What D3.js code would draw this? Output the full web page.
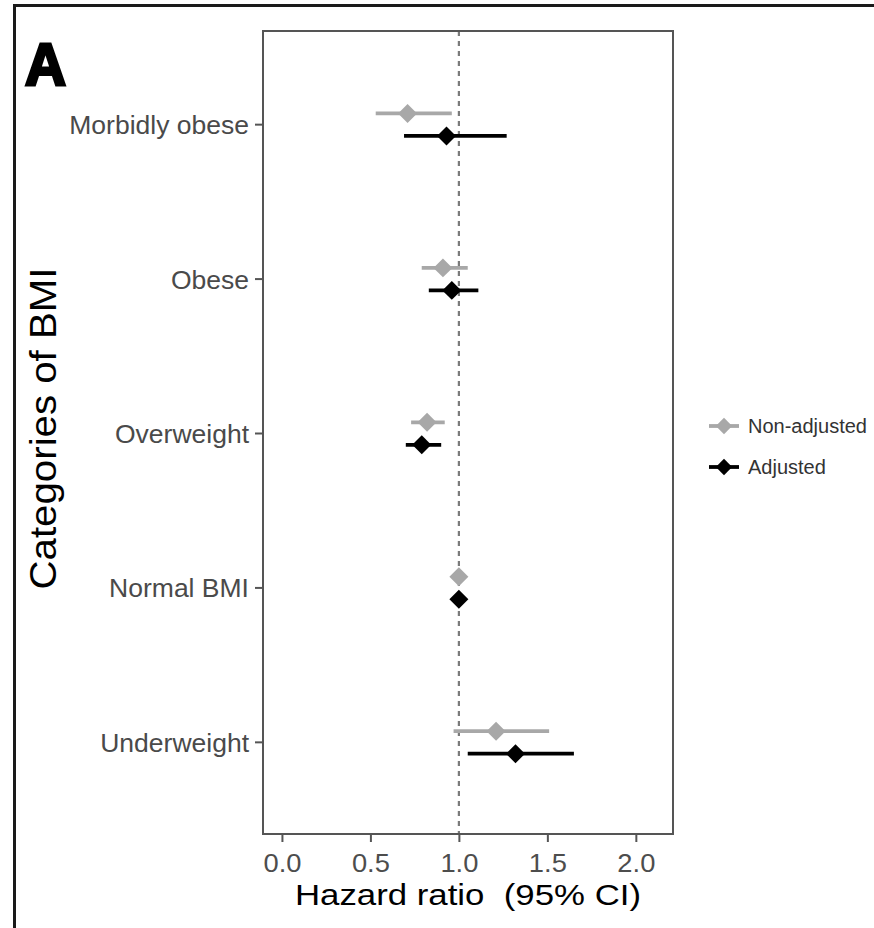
<!DOCTYPE html>
<html>
<head>
<meta charset="utf-8">
<script src="https://cdn.jsdelivr.net/npm/d3@7"></script>
<style>
  html, body { margin: 0; padding: 0; background: #fff; }
  svg { display: block; }
  text { font-family: "Liberation Sans", Arial, Helvetica, sans-serif; white-space: pre; }
</style>
</head>
<body>
<svg id="chart" width="874" height="928"></svg>
<script>
// ---- data ----
const categories = ["Morbidly obese", "Obese", "Overweight", "Normal BMI", "Underweight"];
const series = ["Non-adjusted", "Adjusted"];
const nonAdjHR   = [0.71, 0.91, 0.82, 1.00, 1.21];
const nonAdjLow  = [0.53, 0.79, 0.73, 1.00, 0.97];
const nonAdjHigh = [0.96, 1.05, 0.92, 1.00, 1.51];
const adjHR      = [0.93, 0.96, 0.79, 1.00, 1.32];
const adjLow     = [0.69, 0.83, 0.70, 1.00, 1.05];
const adjHigh    = [1.27, 1.11, 0.90, 1.00, 1.65];
const xTicks = [0.0, 0.5, 1.0, 1.5, 2.0];
const refValue = 1.0;
const panelLabel = "A";
const xTitle = "Hazard ratio  (95% CI)";
const yTitle = "Categories of BMI";

// ---- layout ----
const svg = d3.select("#chart");
const P = { left: 263, right: 673, top: 31, bottom: 834 };
const colors = { "Non-adjusted": "#a8a8a8", "Adjusted": "#000000" };
const dodge = { "Non-adjusted": -11, "Adjusted": 11.5 };

const x = d3.scaleLinear().domain([-0.107, 2.21]).range([P.left, P.right]);
const y = d3.scalePoint().domain(categories).range([P.top, P.bottom]).padding(0.6);

const rows = [];
categories.forEach((c, i) => {
  rows.push({ cat: c, s: "Non-adjusted", hr: nonAdjHR[i], lo: nonAdjLow[i], hi: nonAdjHigh[i] });
  rows.push({ cat: c, s: "Adjusted", hr: adjHR[i], lo: adjLow[i], hi: adjHigh[i] });
});

// outer frame
svg.append("rect").attr("x", 14.5).attr("y", 5.5).attr("width", 900).attr("height", 960)
  .attr("fill", "none").attr("stroke", "#1a1a1a").attr("stroke-width", 3);

// panel label
svg.append("text").attr("x", 25).attr("y", 85).attr("font-size", 60).attr("font-weight", 900)
  .attr("fill", "#000").attr("stroke", "#000").attr("stroke-width", 3)
  .attr("textLength", 41).attr("lengthAdjust", "spacingAndGlyphs").text(panelLabel);

// reference line
svg.append("line").attr("x1", x(refValue)).attr("x2", x(refValue))
  .attr("y1", P.top).attr("y2", P.bottom)
  .attr("stroke", "#7a7a7a").attr("stroke-width", 2.2).attr("stroke-dasharray", "5,5");

// error bars & points
const g = svg.append("g");
g.selectAll("line.ci").data(rows).join("line").attr("class", "ci")
  .attr("x1", d => x(d.lo)).attr("x2", d => x(d.hi))
  .attr("y1", d => y(d.cat) + 0.8 + dodge[d.s]).attr("y2", d => y(d.cat) + 0.8 + dodge[d.s])
  .attr("stroke", d => colors[d.s]).attr("stroke-width", 3.8);

const diamond = d3.symbol().type(d3.symbolDiamond2).size(230);
g.selectAll("path.pt").data(rows).join("path").attr("class", "pt")
  .attr("d", diamond)
  .attr("transform", d => `translate(${x(d.hr)},${y(d.cat) + 0.8 + dodge[d.s]})`)
  .attr("fill", d => colors[d.s]);

// panel border
svg.append("rect").attr("x", P.left).attr("y", P.top)
  .attr("width", P.right - P.left).attr("height", P.bottom - P.top)
  .attr("fill", "none").attr("stroke", "#555").attr("stroke-width", 2);

// x axis
const xAxis = svg.append("g").attr("transform", `translate(0,${P.bottom})`)
  .call(d3.axisBottom(x).tickValues(xTicks).tickFormat(d3.format(".1f")).tickSize(8).tickPadding(12));
xAxis.select(".domain").remove();
xAxis.selectAll(".tick line").attr("stroke", "#555").attr("stroke-width", 2);
xAxis.selectAll(".tick text").attr("fill", "#4d4d4d").attr("font-size", 25)
  .attr("font-family", "'Liberation Sans', Arial, sans-serif").attr("textLength", 38).attr("lengthAdjust", "spacingAndGlyphs");

// y axis
const yAxis = svg.append("g").attr("transform", `translate(${P.left},0.5)`)
  .call(d3.axisLeft(y).tickSize(8).tickPadding(6));
yAxis.select(".domain").remove();
yAxis.selectAll(".tick line").attr("stroke", "#555").attr("stroke-width", 2);
yAxis.selectAll(".tick text").attr("fill", "#4a4a4a").attr("font-size", 26.5)
  .attr("font-family", "'Liberation Sans', Arial, sans-serif").attr("dy", "0.36em");

// titles
svg.append("text").attr("x", (P.left + P.right) / 2).attr("y", 905)
  .attr("text-anchor", "middle").attr("font-size", 30).attr("fill", "#000")
  .attr("textLength", 346).attr("lengthAdjust", "spacingAndGlyphs").text(xTitle);

svg.append("text").attr("transform", `translate(56,${(P.top + P.bottom) / 2 - 4}) rotate(-90)`)
  .attr("text-anchor", "middle").attr("font-size", 36).attr("fill", "#000")
  .attr("textLength", 322).attr("lengthAdjust", "spacingAndGlyphs").text(yTitle);

// legend
const leg = svg.append("g");
series.forEach((s, i) => {
  const ly = 426 + i * 41;
  leg.append("line").attr("x1", 709).attr("x2", 739).attr("y1", ly).attr("y2", ly)
    .attr("stroke", colors[s]).attr("stroke-width", 3.8);
  leg.append("path").attr("d", d3.symbol().type(d3.symbolDiamond2).size(170)())
    .attr("transform", `translate(724,${ly})`).attr("fill", colors[s]);
  leg.append("text").attr("x", 748).attr("y", ly).attr("dy", "0.36em")
    .attr("font-size", 20).attr("fill", "#333").text(s);
});
</script>
</body>
</html>
